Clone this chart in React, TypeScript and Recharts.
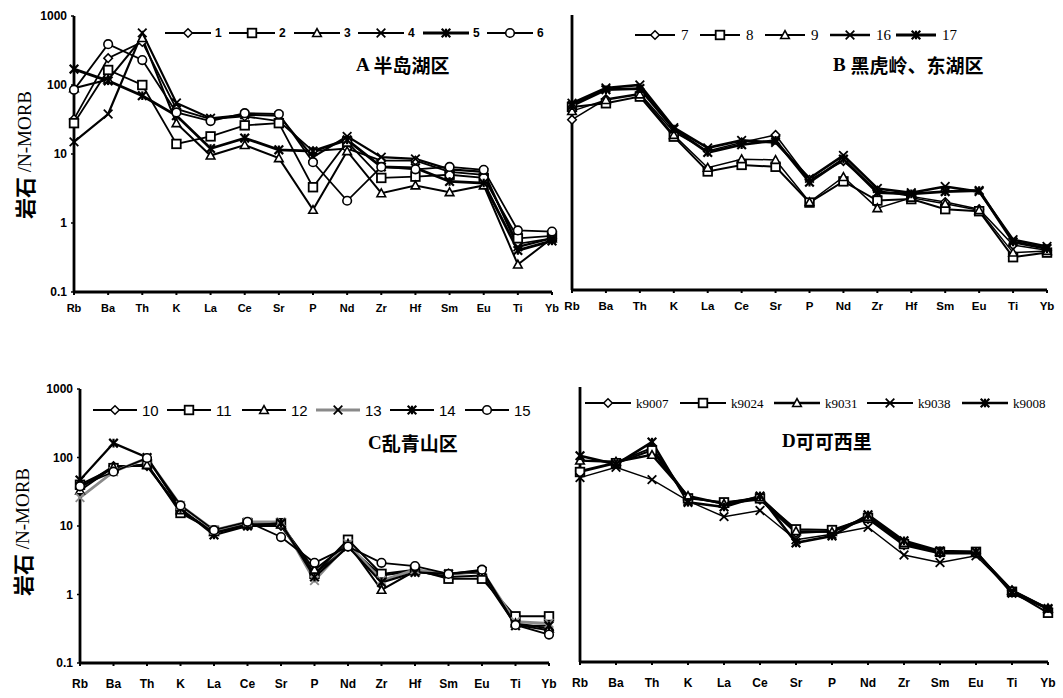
import React from 'react';
import { LineChart, Line, XAxis, YAxis } from 'recharts';

// element order on the x axis
const ELEM15 = ['Rb', 'Ba', 'Th', 'K', 'La', 'Ce', 'Sr', 'P', 'Nd', 'Zr', 'Hf', 'Sm', 'Eu', 'Ti', 'Yb'];
const ELEM14 = ['Rb', 'Ba', 'Th', 'K', 'La', 'Ce', 'Sr', 'P', 'Nd', 'Zr', 'Sm', 'Eu', 'Ti', 'Yb'];
const Y_TICKS = [0.1, 1, 10, 100, 1000];

// A 半岛湖区
const a1 = [32, 245, 420, 45, 32, 35, 30, 11, 12, 8, 8, 5.5, 5, 0.5, 0.6];
const a2 = [28, 165, 100, 14, 18, 26, 28, 3.3, 15, 4.5, 4.7, 5, 4.5, 0.6, 0.65];
const a3 = [90, 120, 480, 28, 9.5, 13.5, 8.7, 1.55, 11, 2.7, 3.5, 2.8, 3.5, 0.25, 0.6];
const a4 = [15, 38, 570, 55, 33, 37, 36, 9, 18, 9, 8.5, 6, 5.5, 0.45, 0.6];
const a5 = [170, 115, 70, 36, 12, 17, 11.5, 11, 16, 6.5, 6.3, 4, 3.8, 0.4, 0.55];
const a6 = [85, 390, 230, 40, 30, 39, 38, 7.6, 2.1, 6.5, 6, 6.5, 5.9, 0.78, 0.75];

// B 黑虎岭、东湖区
const b7 = [30, 60, 72, 20, 10.5, 14, 18, 4.0, 7.5, 2.8, 2.3, 1.9, 1.5, 0.45, 0.38];
const b8 = [46, 52, 65, 17, 5.3, 6.6, 6.2, 1.87, 3.8, 2.0, 2.1, 1.5, 1.4, 0.3, 0.35];
const b9 = [40, 58, 70, 18, 6.0, 8.0, 7.8, 1.9, 4.4, 1.55, 2.2, 1.8, 1.45, 0.35, 0.37];
const b16 = [52, 87, 96, 23, 11.7, 15, 14, 4.2, 9.1, 3.0, 2.6, 3.2, 2.7, 0.54, 0.43];
const b17 = [48, 82, 85, 22, 10, 13, 15, 3.7, 8.0, 2.6, 2.5, 2.7, 2.8, 0.5, 0.4];

// C 乱青山区
const c10 = [36, 75, 75, 17, 8, 10, 10, 2.0, 5.0, 1.9, 2.2, 1.8, 1.9, 0.36, 0.3];
const c11 = [40, 70, 80, 15.5, 8.5, 11, 11, 2.0, 6.3, 2.0, 2.3, 1.7, 1.7, 0.48, 0.48];
const c12 = [33, 72, 78, 17, 8.2, 10.5, 10.5, 2.3, 5.5, 1.17, 2.2, 2.0, 2.1, 0.38, 0.32];
const c13 = [26, 62, 98, 20, 8.7, 11.5, 11.5, 1.6, 5.5, 1.6, 2.3, 2.0, 2.2, 0.4, 0.38];
const c14 = [47, 162, 100, 18, 7.4, 10, 11, 1.8, 5, 1.5, 2.1, 2.0, 2.2, 0.35, 0.35];
const c15 = [38, 62, 98, 20, 8.7, 11.5, 6.9, 2.9, 5.0, 2.9, 2.6, 2.0, 2.3, 0.36, 0.26];

// D 可可西里
const dK9007 = [60, 80, 130, 25, 20, 23, 7.5, 8, 12, 5, 3.8, 3.8, 1.1, 0.6];
const dK9024 = [58, 78, 120, 24, 21, 24, 8.5, 8.3, 12.5, 5.2, 4.0, 4.0, 1.05, 0.52];
const dK9031 = [85, 82, 103, 26, 20, 25, 8, 7.8, 13, 5.4, 4.0, 3.9, 1.1, 0.6];
const dK9038 = [48, 68, 45, 22, 13, 16, 6, 7.2, 9.1, 3.6, 2.8, 3.5, 1.05, 0.58];
const dK9008 = [100, 75, 158, 21, 18, 26, 5.4, 6.8, 13.8, 5.8, 4.1, 4.0, 1.0, 0.6];

type Shape = 'diamond' | 'square' | 'triangle' | 'cross' | 'star' | 'circle';

const Marker = ({ shape, cx, cy, r = 4.3, color = '#000' }: { shape: Shape; cx: number; cy: number; r?: number; color?: string }) => {
  if (cx == null || cy == null) return null;
  switch (shape) {
    case 'diamond':
      return <polygon points={`${cx},${cy - r} ${cx + r},${cy} ${cx},${cy + r} ${cx - r},${cy}`} fill="#fff" stroke={color} strokeWidth={1.5} />;
    case 'square':
      return <rect x={cx - r} y={cy - r} width={2 * r} height={2 * r} fill="#fff" stroke={color} strokeWidth={1.8} />;
    case 'triangle':
      return <polygon points={`${cx},${cy - r} ${cx + r},${cy + r * 0.8} ${cx - r},${cy + r * 0.8}`} fill="#fff" stroke={color} strokeWidth={1.6} />;
    case 'cross':
      return (
        <g stroke={color} strokeWidth={1.8}>
          <line x1={cx - r} y1={cy - r} x2={cx + r} y2={cy + r} />
          <line x1={cx - r} y1={cy + r} x2={cx + r} y2={cy - r} />
        </g>
      );
    case 'star':
      return (
        <g stroke={color} strokeWidth={2.2}>
          <line x1={cx - r} y1={cy - r} x2={cx + r} y2={cy + r} />
          <line x1={cx - r} y1={cy + r} x2={cx + r} y2={cy - r} />
          <line x1={cx} y1={cy - r} x2={cx} y2={cy + r} />
        </g>
      );
    default:
      return <circle cx={cx} cy={cy} r={r} fill="#fff" stroke={color} strokeWidth={1.6} />;
  }
};

interface Serie {
  key: string;
  label: string;
  values: number[];
  shape: Shape;
  width: number;
  color?: string;
}

const seriesA: Serie[] = [
  { key: 's1', label: '1', values: a1, shape: 'diamond', width: 1.8 },
  { key: 's2', label: '2', values: a2, shape: 'square', width: 1.8 },
  { key: 's3', label: '3', values: a3, shape: 'triangle', width: 2 },
  { key: 's4', label: '4', values: a4, shape: 'cross', width: 2.2 },
  { key: 's5', label: '5', values: a5, shape: 'star', width: 2.8 },
  { key: 's6', label: '6', values: a6, shape: 'circle', width: 1.8 },
];
const seriesB: Serie[] = [
  { key: 's7', label: '7', values: b7, shape: 'diamond', width: 1.5 },
  { key: 's8', label: '8', values: b8, shape: 'square', width: 2 },
  { key: 's9', label: '9', values: b9, shape: 'triangle', width: 1.5 },
  { key: 's16', label: '16', values: b16, shape: 'cross', width: 2.6 },
  { key: 's17', label: '17', values: b17, shape: 'star', width: 2.8 },
];
const seriesC: Serie[] = [
  { key: 's10', label: '10', values: c10, shape: 'diamond', width: 2 },
  { key: 's11', label: '11', values: c11, shape: 'square', width: 2 },
  { key: 's12', label: '12', values: c12, shape: 'triangle', width: 2 },
  { key: 's13', label: '13', values: c13, shape: 'cross', width: 2.8, color: '#8a8a8a' },
  { key: 's14', label: '14', values: c14, shape: 'star', width: 2.2 },
  { key: 's15', label: '15', values: c15, shape: 'circle', width: 1.8 },
];
const seriesD: Serie[] = [
  { key: 'k9007', label: 'k9007', values: dK9007, shape: 'diamond', width: 2 },
  { key: 'k9024', label: 'k9024', values: dK9024, shape: 'square', width: 2 },
  { key: 'k9031', label: 'k9031', values: dK9031, shape: 'triangle', width: 2.4 },
  { key: 'k9038', label: 'k9038', values: dK9038, shape: 'cross', width: 1.4 },
  { key: 'k9008', label: 'k9008', values: dK9008, shape: 'star', width: 2.6 },
];

interface PanelProps {
  left: number;
  top: number;
  width: number;
  height: number;
  margin: { top: number; right: number; bottom: number; left: number };
  yWidth: number;
  elems: string[];
  series: Serie[];
  showY: boolean;
  xFont: number;
  xMargin: number;
}

const Panel = ({ left, top, width, height, margin, yWidth, elems, series, showY, xFont, xMargin }: PanelProps) => {
  const data = elems.map((e, i) => {
    const row: any = { i, name: e };
    series.forEach(s => { row[s.key] = s.values[i]; });
    return row;
  });
  return (
    <div style={{ position: 'absolute', left, top }}>
      <LineChart width={width} height={height} data={data} margin={margin}>
        <XAxis
          type="number"
          dataKey="i"
          domain={[0, elems.length - 1]}
          ticks={elems.map((_, i) => i)}
          interval={0}
          tickFormatter={(v: number) => elems[v]}
          axisLine={{ stroke: '#000', strokeWidth: 2.8 }}
          tickLine={{ stroke: '#000', strokeWidth: 2 }}
          tickSize={3}
          tickMargin={xMargin}
          height={24}
          tick={{ fill: '#000', fontSize: xFont, fontWeight: 700, fontFamily: 'Liberation Sans, Arial, sans-serif' }}
        />
        <YAxis
          type="number"
          scale="log"
          domain={[0.1, 1000]}
          ticks={Y_TICKS}
          interval={0}
          allowDataOverflow
          width={yWidth}
          axisLine={{ stroke: '#000', strokeWidth: 2.8 }}
          tickLine={{ stroke: '#000', strokeWidth: 1.5 }}
          tickSize={3}
          tickMargin={4}
          tickFormatter={(v: number) => String(v)}
          tick={showY ? { fill: '#000', fontSize: 12, fontWeight: 700, fontFamily: 'Liberation Sans, Arial, sans-serif' } : false}
        />
        {series.map(s => (
          <Line
            key={s.key}
            type="linear"
            dataKey={s.key}
            stroke={s.color || '#000'}
            strokeWidth={s.width}
            isAnimationActive={false}
            activeDot={false}
            dot={(p: any) => (
              <g key={`${s.key}-${p.index}`}>
                <Marker shape={s.shape} cx={p.cx} cy={p.cy} color={s.color || '#000'} />
              </g>
            )}
          />
        ))}
      </LineChart>
    </div>
  );
};

// legend rows: series, x of each marker, y, half line length, label gap, font
const Legend = ({ series, xs, y, half, gap, font }: { series: Serie[]; xs: number[]; y: number; half: number; gap: number; font: React.CSSProperties }) => (
  <g>
    {series.map((s, k) => (
      <g key={s.key}>
        <line x1={xs[k] - half} y1={y} x2={xs[k] + half} y2={y} stroke={s.color || '#000'} strokeWidth={Math.max(1.8, s.width)} />
        <Marker shape={s.shape} cx={xs[k]} cy={y} color="#000" />
        <text x={xs[k] + half + gap} y={y} dominantBaseline="central" style={font}>{s.label}</text>
      </g>
    ))}
  </g>
);

const cjk = { fontFamily: 'Noto Sans CJK SC, sans-serif', fontWeight: 700 } as React.CSSProperties;
const serif = { fontFamily: 'Liberation Serif, serif' } as React.CSSProperties;

export default function App() {
  return (
    <div style={{ position: 'absolute', left: 0, top: 0, width: 1063, height: 698, background: '#fff', overflow: 'hidden' }}>
      <Panel left={0} top={0} width={562} height={320} margin={{ top: 16, right: 10, bottom: 4, left: 34 }} yWidth={40}
        elems={ELEM15} series={seriesA} showY xFont={11} xMargin={9} />
      <Panel left={540} top={0} width={523} height={320} margin={{ top: 15, right: 16, bottom: 6, left: 2 }} yWidth={30}
        elems={ELEM15} series={seriesB} showY={false} xFont={11.5} xMargin={9} />
      <Panel left={0} top={370} width={562} height={328} margin={{ top: 19, right: 13, bottom: 11, left: 40 }} yWidth={40}
        elems={ELEM15} series={seriesC} showY xFont={12} xMargin={13} />
      <Panel left={540} top={370} width={523} height={328} margin={{ top: 17, right: 15, bottom: 12, left: 10 }} yWidth={30}
        elems={ELEM14} series={seriesD} showY={false} xFont={12} xMargin={13} />

      <svg width={1063} height={698} style={{ position: 'absolute', left: 0, top: 0, pointerEvents: 'none' }}>
        <Legend series={seriesA} xs={[188, 252, 317, 381, 446, 510]} y={33} half={23} gap={4}
          font={{ fontFamily: 'Liberation Sans, sans-serif', fontWeight: 700, fontSize: 12 }} />
        <Legend series={seriesB} xs={[655, 720, 785, 850, 916]} y={35} half={20} gap={6}
          font={{ ...serif, fontSize: 15 }} />
        <Legend series={seriesC} xs={[115, 189, 264, 338, 412, 487]} y={410} half={22} gap={5}
          font={{ fontFamily: 'Liberation Sans, sans-serif', fontSize: 15 }} />
        <Legend series={seriesD} xs={[608, 703, 797, 890, 985]} y={403} half={23} gap={5}
          font={{ ...serif, fontSize: 13 }} />

        <text x={356} y={64} dominantBaseline="central" style={{ fontSize: 19 }}>
          <tspan style={{ ...serif, fontWeight: 700 }}>A </tspan><tspan style={cjk}>半岛湖区</tspan>
        </text>
        <text x={833} y={64} dominantBaseline="central" style={{ fontSize: 19 }}>
          <tspan style={{ ...serif, fontWeight: 700 }}>B </tspan><tspan style={cjk}>黑虎岭、东湖区</tspan>
        </text>
        <text x={368} y={442} dominantBaseline="central" style={{ fontSize: 19 }}>
          <tspan style={{ ...serif, fontWeight: 700 }}>C</tspan><tspan style={cjk}>乱青山区</tspan>
        </text>
        <text x={782} y={440} dominantBaseline="central" style={{ fontSize: 19 }}>
          <tspan style={{ ...serif, fontWeight: 700 }}>D</tspan><tspan style={cjk}>可可西里</tspan>
        </text>

        <text transform="translate(24,155) rotate(-90)" textAnchor="middle" dominantBaseline="central">
          <tspan style={{ ...cjk, fontSize: 21 }}>岩石</tspan><tspan style={{ ...serif, fontSize: 19 }}> /N-MORB</tspan>
        </text>
        <text transform="translate(22,532) rotate(-90)" textAnchor="middle" dominantBaseline="central">
          <tspan style={{ ...cjk, fontSize: 21 }}>岩石</tspan><tspan style={{ ...serif, fontSize: 19 }}> /N-MORB</tspan>
        </text>
      </svg>
    </div>
  );
}
